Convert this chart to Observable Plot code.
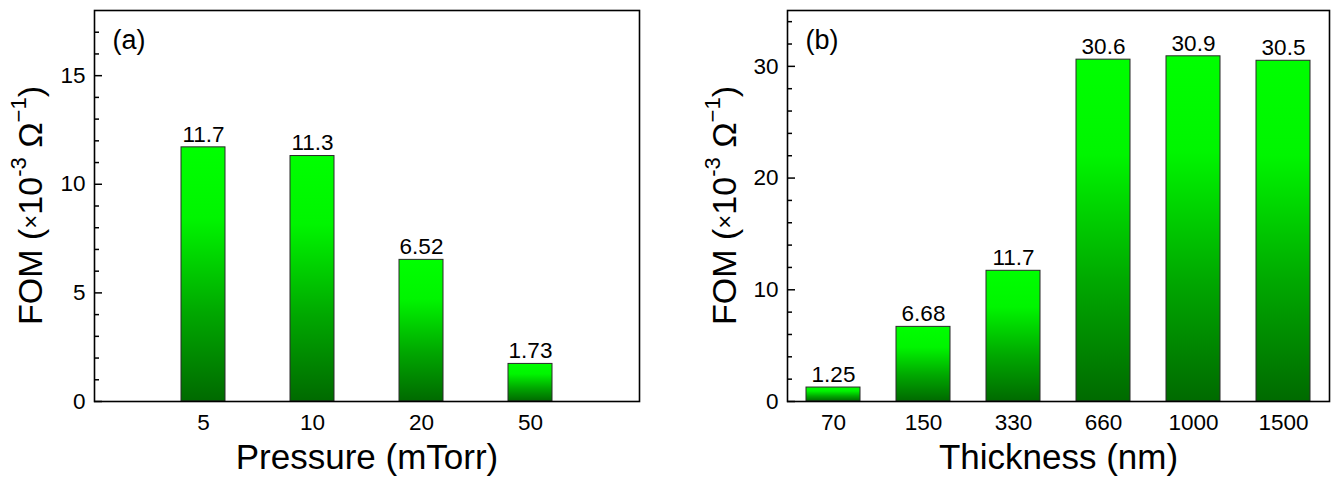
<!DOCTYPE html>
<html>
<head>
<meta charset="utf-8">
<script src="https://cdn.jsdelivr.net/npm/d3@7"></script>
<script src="https://cdn.jsdelivr.net/npm/@observablehq/plot@0.6"></script>
<style>
  html, body { margin: 0; padding: 0; background: #fff; }
  #wrap { position: relative; width: 1333px; height: 477px; font-family: "Liberation Sans", Arial, sans-serif; }
  #wrap svg { position: absolute; top: 0; overflow: visible; }
</style>
</head>
<body>
<div id="wrap"></div>
<script>
// ---- Data ----
const pressureLabels = ["5", "10", "20", "50"];
const pressureFOM = [11.7, 11.3, 6.52, 1.73];
const pressureValueText = ["11.7", "11.3", "6.52", "1.73"];

const thicknessLabels = ["70", "150", "330", "660", "1000", "1500"];
const thicknessFOM = [1.25, 6.68, 11.7, 30.6, 30.9, 30.5];
const thicknessValueText = ["1.25", "6.68", "11.7", "30.6", "30.9", "30.5"];

const yTicksA = [0, 5, 10, 15];
const yMinorA = [1, 2, 3, 4, 6, 7, 8, 9, 11, 12, 13, 14, 16, 17];
const yTicksB = [0, 10, 20, 30];
const yMinorB = [2, 4, 6, 8, 12, 14, 16, 18, 22, 24, 26, 28, 32, 34];

const FONT = "Liberation Sans, Arial, sans-serif";
const wrap = document.getElementById("wrap");

function panel(opts) {
  const {labels, values, valueText, yMax, yTicks, yMinor, xTitle, tag, left, width,
         marginLeft, marginRight, padIn, padOut, gradId, titleX} = opts;
  const data = labels.map((l, i) => ({cat: l, v: values[i], t: valueText[i]}));
  const marginTop = 10, marginBottom = 76, height = 477;
  const frameW = width - marginLeft - marginRight;
  const chart = Plot.plot({
    width, height, marginLeft, marginRight, marginTop, marginBottom,
    style: {fontFamily: FONT, color: "#000", background: "transparent", overflow: "visible"},
    x: {type: "band", domain: labels, paddingInner: padIn, paddingOuter: padOut, label: null},
    y: {domain: [0, yMax], label: null},
    marks: [
      Plot.barY(data, {x: "cat", y: "v", fill: `url(#${gradId})`, stroke: "#2a2a2a", strokeWidth: 1}),
      Plot.text(data, {x: "cat", y: "v", text: "t", dy: -13, fontSize: 22.5, fill: "#000"}),
      Plot.tickY(yTicks, {y: d => d, insetRight: frameW - 8, stroke: "#000", strokeWidth: 1.5}),
      Plot.tickY(yMinor, {y: d => d, insetRight: frameW - 5, stroke: "#000", strokeWidth: 1.5}),
      Plot.axisY({ticks: yTicks, tickSize: 0, tickPadding: 9, fontSize: 22.5, label: null}),
      Plot.axisX({tickSize: 0, tickPadding: 13, fontSize: 22.5, label: null}),
      Plot.frame({stroke: "#000", strokeWidth: 1.6}),
      Plot.text([xTitle], {frameAnchor: "bottom", dy: 56, lineAnchor: "middle", fontSize: 35, fill: "#000", text: d => d}),
      Plot.text([tag], {frameAnchor: "top-left", dx: 18, dy: 30, lineAnchor: "middle", fontSize: 27, fill: "#000", text: d => d, textAnchor: "start"})
    ]
  });
  chart.style.left = left + "px";
  const svg = d3.select(chart);
  const defs = svg.insert("defs", ":first-child");
  const g = defs.append("linearGradient").attr("id", gradId)
    .attr("x1", 0).attr("y1", 0).attr("x2", 0).attr("y2", 1);
  g.append("stop").attr("offset", "0").attr("stop-color", "#00ff00");
  g.append("stop").attr("offset", "0.28").attr("stop-color", "#00f500");
  g.append("stop").attr("offset", "0.65").attr("stop-color", "#00a800");
  g.append("stop").attr("offset", "1").attr("stop-color", "#006a00");

  // Y axis title with superscripts
  const cy = marginTop + (height - marginTop - marginBottom) / 2;
  const t = svg.append("text")
    .attr("transform", `translate(${titleX},${cy}) rotate(-90)`)
    .attr("text-anchor", "middle")
    .attr("dominant-baseline", "central")
    .attr("font-family", FONT)
    .attr("font-size", 34)
    .attr("fill", "#000");
  t.append("tspan").text("FOM (");
  t.append("tspan").attr("font-size", 24).text("×");
  t.append("tspan").text("10");
  t.append("tspan").attr("font-size", 22).attr("dy", -12).text("-3");
  t.append("tspan").attr("dy", 12).text(" Ω");
  t.append("tspan").attr("font-size", 22).attr("dy", -12).text("−1");
  t.append("tspan").attr("dy", 12).text(")");
  wrap.appendChild(chart);
}

panel({labels: pressureLabels, values: pressureFOM, valueText: pressureValueText,
  yMax: 18, yTicks: yTicksA, yMinor: yMinorA, xTitle: "Pressure (mTorr)", tag: "(a)",
  left: 0, width: 690, marginLeft: 94, marginRight: 51, padIn: 0.6, padOut: 0.8,
  gradId: "gradA", titleX: 30});

panel({labels: thicknessLabels, values: thicknessFOM, valueText: thicknessValueText,
  yMax: 35, yTicks: yTicksB, yMinor: yMinorB, xTitle: "Thickness (nm)", tag: "(b)",
  left: 690, width: 643, marginLeft: 97, marginRight: 4, padIn: 0.4, padOut: 0.2,
  gradId: "gradB", titleX: 34});
</script>
</body>
</html>
